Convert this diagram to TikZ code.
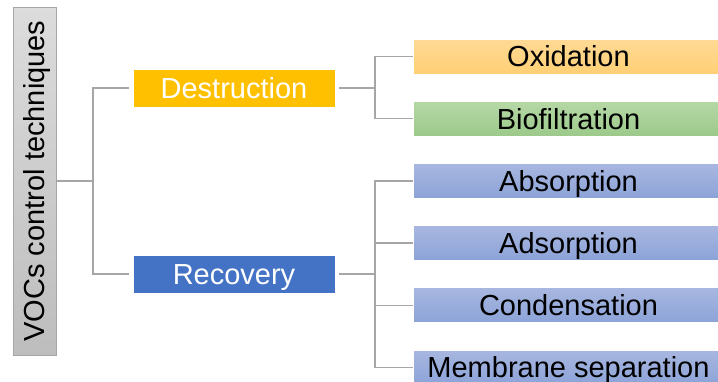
\documentclass[tikz,border=0pt]{standalone}
\usepackage{fontspec}
\setmainfont{Liberation Sans}
\usetikzlibrary{positioning}

\definecolor{linegray}{HTML}{A6A6A6}
\definecolor{vocl}{HTML}{DCDCDC}
\definecolor{vocd}{HTML}{BDBDBD}
\definecolor{destr}{HTML}{FFC000}
\definecolor{recov}{HTML}{4472C4}
\definecolor{oxtop}{HTML}{FFDA96}
\definecolor{oxbot}{HTML}{FFCF74}
\definecolor{biotop}{HTML}{B6D8A6}
\definecolor{biobot}{HTML}{9CC98A}
\definecolor{rectop}{HTML}{A8B7E0}
\definecolor{recbot}{HTML}{8CA3D8}

\tikzset{
  conn/.style={draw=linegray,line width=1.5pt},
  basebox/.style={inner sep=0pt,text height=20.8pt,text depth=0pt,font=\fontsize{29}{34}\selectfont},
  catbox/.style={basebox,draw=white,line width=0.8pt,fill=#1,text=white,minimum width=202pt,minimum height=38pt},
  methbox/.style 2 args={basebox,draw=white,line width=0.8pt,top color=#1,bottom color=#2,minimum width=311pt,minimum height=35pt}
}

\begin{document}
\begin{tikzpicture}[x=1pt,y=-1pt]
\useasboundingbox (0,0) rectangle (718,381);
% root
\node[basebox,rotate=90,draw=linegray,line width=0.8pt,top color=vocl,bottom color=vocd,minimum width=348pt,minimum height=43pt] (voc) at (34.5,181) {VOCs control techniques};
% categories
\node[catbox=destr] (dest) at (234,88) {Destruction};
\node[catbox=recov] (rec) at (234,274) {Recovery};
% methods
\node[methbox={oxtop}{oxbot}] (oxid) at (568.5,56.5) {Oxidation};
\node[methbox={biotop}{biobot}] (biofil) at (568.5,118.7) {Biofiltration};
\foreach \n/\t [count=\k from 2] in {absorp/Absorption,adsorp/Adsorption,conden/Condensation,membr/Membrane separation}
  \node[methbox={rectop}{recbot}] (\n) at (568.5,{56.5+62.2*\k}) {\t};
% connectors
\coordinate (j1) at (93,181);
\coordinate (j2) at (375,88);
\coordinate (j3) at (375,274);
\draw[conn] (voc.south) -- (j1) (j1) |- ([xshift=-4pt]dest.west) (j1) |- ([xshift=-4pt]rec.west);
\draw[conn] ([xshift=4pt]dest.east) -- (j2) (j2) |- (oxid.west) (j2) |- (biofil.west);
\draw[conn] ([xshift=4pt]rec.east) -- (j3);
\foreach \n in {absorp,adsorp,conden,membr}
  \draw[conn] (j3) |- (\n.west);
\end{tikzpicture}
\end{document}
